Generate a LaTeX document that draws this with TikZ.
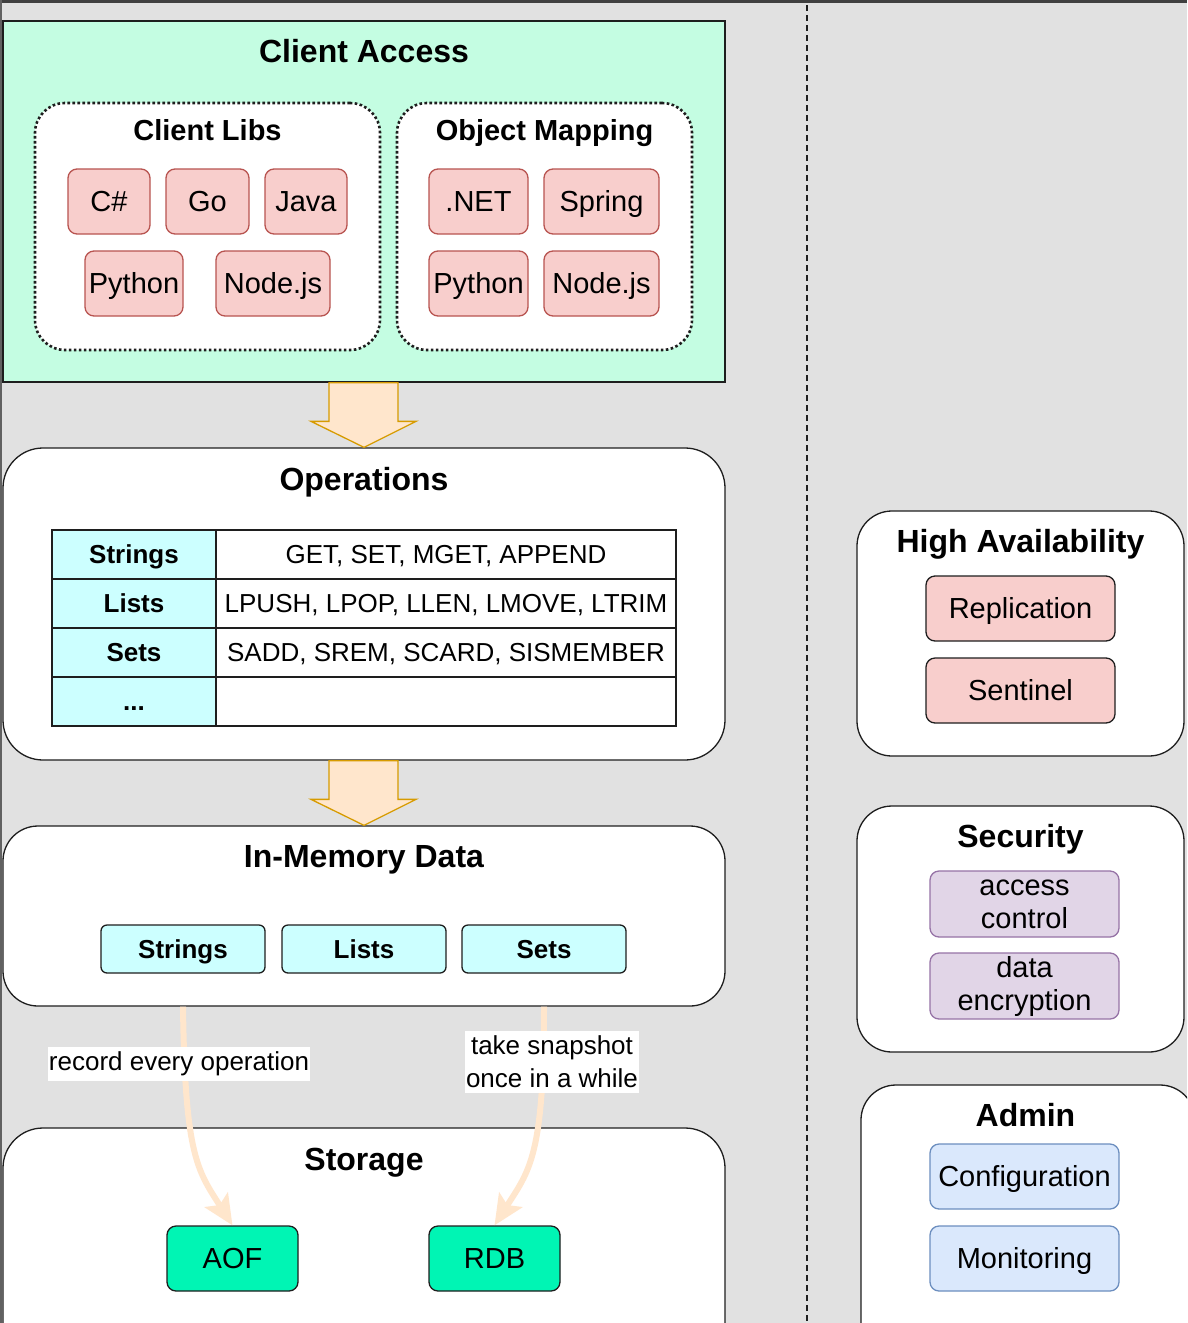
\documentclass[tikz,border=0pt]{standalone}
\usepackage{fontspec}
\setmainfont{Liberation Sans}
\usetikzlibrary{arrows.meta,calc}

\definecolor{paper}{HTML}{E1E1E1}
\definecolor{outline}{HTML}{1E1E1E}
\definecolor{mint}{HTML}{C4FDE2}
\definecolor{redfill}{HTML}{F8CECC}
\definecolor{redline}{HTML}{B85450}
\definecolor{cyanfill}{HTML}{CCFFFF}
\definecolor{aqua}{HTML}{00F5B4}
\definecolor{violetfill}{HTML}{E1D5E7}
\definecolor{violetline}{HTML}{9673A6}
\definecolor{bluefill}{HTML}{DAE8FC}
\definecolor{blueline}{HTML}{6C8EBF}
\definecolor{peach}{HTML}{FFE6CC}
\definecolor{amber}{HTML}{D79B00}

\begin{document}
\begin{tikzpicture}[x=1pt,y=-1pt,line width=1.3pt,
    layer/.style={draw=outline,fill=white,inner sep=0pt,rounded corners=40pt},
    group/.style={draw=outline,fill=white,inner sep=0pt,rounded corners=30pt,
                  line width=2.6pt,dash pattern=on 2.6pt off 2.4pt},
    heading/.style={anchor=base,inner sep=0pt,font=\bfseries\fontsize{32}{38}\selectfont},
    subheading/.style={anchor=base,inner sep=0pt,font=\bfseries\fontsize{29}{35}\selectfont},
    box/.style={draw=outline,rounded corners=9pt,minimum width=189pt,minimum height=65pt,
                inner sep=1pt,font=\fontsize{29}{33}\selectfont},
    item/.style={box,text height=20.8pt,text depth=0pt},
    lib/.style={item,draw=redline,fill=redfill},
    cell/.style={draw=outline,minimum height=49pt,inner sep=1pt,
                 text height=18.6pt,text depth=0pt,font=\fontsize{26}{30}\selectfont},
    kind/.style={draw=outline,fill=cyanfill,rounded corners=6pt,minimum width=164pt,
                 minimum height=48pt,text height=18.6pt,text depth=0pt,
                 font=\bfseries\fontsize{26}{30}\selectfont},
    block/.style={draw=amber,fill=peach,line width=1.3pt},
    flow/.style={draw=peach,line width=6pt,-{Stealth[length=30pt,width=27pt,inset=6pt]}},
    note/.style={fill=white,inner xsep=1pt,inner ysep=5pt,align=center,
                 font=\fontsize{26}{33}\selectfont},
    divider/.style={draw=outline,line width=2pt,dash pattern=on 6pt off 4pt}]

\clip (0,0) rectangle (1187,1323);
\fill[paper] (0,0) rectangle (1187,1323);
\fill[outline!85] (0,0) rectangle (1187,3);
\fill[outline!70] (0,0) rectangle (1.5,1323);

% client access
\node[layer,sharp corners,fill=mint,minimum width=722pt,minimum height=361pt] (ca) at (364,201.5) {};
\node[heading] (caT) at ($(ca.north)+(0,42.5)$) {Client Access};

\node[group,minimum width=345pt,minimum height=247pt] (cl) at (207.5,226.5) {};
\node[subheading] (clT) at ($(cl.north)+(0,38.5)$) {Client Libs};
\node[lib,minimum width=82pt] (cs) at (109,201.5) {C\#};
\node[lib,minimum width=83pt] (go) at (207.5,201.5) {Go};
\node[lib,minimum width=82pt] (java) at (306,201.5) {Java};
\node[lib,minimum width=98pt] (py) at (134,283.5) {Python};
\node[lib,minimum width=114pt] (js) at (273,283.5) {Node.js};

\node[group,minimum width=295pt,minimum height=247pt] (om) at (544.5,226.5) {};
\node[subheading] (omT) at ($(om.north)+(0,38.5)$) {Object Mapping};
\node[lib,minimum width=99pt] (net) at (478.5,201.5) {.NET};
\node[lib,minimum width=115pt] (spring) at (601.5,201.5) {Spring};
\node[lib,minimum width=99pt] (pyom) at (478.5,283.5) {Python};
\node[lib,minimum width=115pt] (jsom) at (601.5,283.5) {Node.js};

% operations
\node[layer,minimum width=722pt,minimum height=312pt] (ops) at (364,604) {};
\node[heading] (opsT) at ($(ops.north)+(0,43.5)$) {Operations};
\foreach \i/\kindname/\cmds in {0/Strings/{GET, SET, MGET, APPEND},
                                1/Lists/{LPUSH, LPOP, LLEN, LMOVE, LTRIM},
                                2/Sets/{SADD, SREM, SCARD, SISMEMBER}}{
  \node[cell,fill=cyanfill,font=\bfseries\fontsize{26}{30}\selectfont,minimum width=164pt]
    (k\i) at (134,554.5+49*\i) {\kindname};
  \node[cell,fill=white,minimum width=460pt] (c\i) at (446,554.5+49*\i) {\cmds};
}
\node[cell,fill=cyanfill,font=\bfseries\fontsize{26}{30}\selectfont,minimum width=164pt]
  (k3) at (134,701.5) {...};
\node[cell,fill=white,minimum width=460pt] (c3) at (446,701.5) {};

% in-memory data
\node[layer,rounded corners=35pt,minimum width=722pt,minimum height=180pt] (mem) at (364,916) {};
\node[heading] (memT) at ($(mem.north)+(0,42.5)$) {In-Memory Data};
\node[kind] (mstr) at (183,949) {Strings};
\node[kind] (mlist) at (364,949) {Lists};
\node[kind] (mset) at (544,949) {Sets};

% storage
\node[layer,minimum width=722pt,minimum height=260pt] (sto) at (364,1258) {};
\node[heading] (stoT) at ($(sto.north)+(0,43.5)$) {Storage};
\node[item,fill=aqua,minimum width=131pt] (aof) at (232.5,1258.5) {AOF};
\node[item,fill=aqua,minimum width=131pt] (rdb) at (494.5,1258.5) {RDB};

% right column
\node[layer,rounded corners=35pt,minimum width=327pt,minimum height=245pt] (ha) at (1020.5,633.5) {};
\node[heading] (haT) at ($(ha.north)+(0,42.5)$) {High Availability};
\node[item,fill=redfill] (repl) at (1020.5,608.5) {Replication};
\node[item,fill=redfill] (sent) at (1020.5,690.5) {Sentinel};

\node[layer,rounded corners=35pt,minimum width=327pt,minimum height=246pt] (sec) at (1020.5,929) {};
\node[heading] (secT) at ($(sec.north)+(0,42.5)$) {Security};
\node[box,draw=violetline,fill=violetfill,minimum height=66pt,align=center] (acl) at (1024.5,904) {access\\control};
\node[box,draw=violetline,fill=violetfill,minimum height=66pt,align=center] (enc) at (1024.5,986) {data\\encryption};

\node[layer,rounded corners=35pt,minimum width=334pt,minimum height=290pt] (adm) at (1028,1230) {};
\node[heading] (admT) at ($(adm.north)+(-2.5,42.5)$) {Admin};
\node[item,draw=blueline,fill=bluefill] (conf) at (1024.5,1176.5) {Configuration};
\node[item,draw=blueline,fill=bluefill] (mon) at (1024.5,1258.5) {Monitoring};

% block arrows
\draw[block] ($(ca.south)+(-35,0)$) -- ($(ca.south)+(34,0)$) -- ($(ops.north)+(34,-26)$)
  -- ($(ops.north)+(52,-26)$) -- (ops.north) -- ($(ops.north)+(-53,-26)$)
  -- ($(ops.north)+(-35,-26)$) -- cycle;
\draw[block] ($(ops.south)+(-35,0)$) -- ($(ops.south)+(34,0)$) -- ($(mem.north)+(34,-26)$)
  -- ($(mem.north)+(52,-26)$) -- (mem.north) -- ($(mem.north)+(-53,-26)$)
  -- ($(mem.north)+(-35,-26)$) -- cycle;

% persistence
\draw[flow] (mstr |- mem.south) .. controls +(2,150) and +(-35,-55) .. (aof.north);
\draw[flow] (mset |- mem.south) .. controls +(0,150) and +(35,-55) .. (rdb.north);
\node[note] (recL) at (179,1064) {record every operation};
\node[note] (snapL) at (552,1062) {take snapshot\\once in a while};

\coordinate (divTop) at (807,5);
\coordinate (divBot) at (807,1323);
\draw[divider] (divTop) -- (divBot);
\end{tikzpicture}
\end{document}
